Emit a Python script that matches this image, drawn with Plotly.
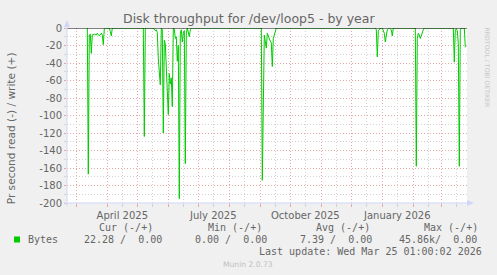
import plotly.graph_objects as go
import pandas as pd

# ---- data (bytes per second read; plotted negative) ----
read_dates = [
    "2025-03-12", "2025-03-13", "2025-03-14", "2025-03-15", "2025-03-16", "2025-03-17",
    "2025-03-19", "2025-03-21", "2025-03-22", "2025-03-24", "2025-03-26", "2025-03-27",
    "2025-03-28", "2025-03-29", "2025-03-30",
    "2025-04-03", "2025-04-04", "2025-04-05", "2025-04-06",
    "2025-05-07", "2025-05-08", "2025-05-09",
    "2025-05-17", "2025-05-18", "2025-05-19", "2025-05-20", "2025-05-21", "2025-05-22",
    "2025-05-23", "2025-05-24", "2025-05-25", "2025-05-26", "2025-05-27", "2025-05-28",
    "2025-05-29", "2025-05-30", "2025-05-31", "2025-06-01", "2025-06-02", "2025-06-03",
    "2025-06-04", "2025-06-05", "2025-06-06", "2025-06-07", "2025-06-08", "2025-06-09",
    "2025-06-10", "2025-06-11", "2025-06-12", "2025-06-13", "2025-06-14", "2025-06-15",
    "2025-06-16", "2025-06-17", "2025-06-18", "2025-06-19", "2025-06-20", "2025-06-21",
    "2025-06-22", "2025-06-23", "2025-06-24",
    "2025-09-02", "2025-09-03", "2025-09-05", "2025-09-07", "2025-09-08", "2025-09-10",
    "2025-09-11", "2025-09-12", "2025-09-13", "2025-09-14", "2025-09-16", "2025-09-17",
    "2025-12-25", "2025-12-26", "2025-12-27", "2025-12-28", "2025-12-29", "2025-12-30",
    "2026-01-01", "2026-01-02", "2026-01-03", "2026-01-04", "2026-01-05", "2026-01-06",
    "2026-01-07", "2026-01-08", "2026-01-10", "2026-01-11", "2026-01-12",
    "2026-02-03", "2026-02-04", "2026-02-05", "2026-02-06", "2026-02-07", "2026-02-08",
    "2026-02-09", "2026-02-10", "2026-02-11", "2026-02-12",
    "2026-03-13", "2026-03-14", "2026-03-15", "2026-03-16", "2026-03-17", "2026-03-18",
    "2026-03-19", "2026-03-20", "2026-03-21", "2026-03-24", "2026-03-25",
]
read_rate = [
    0, 167, 8, 7, 29, 8,
    7, 8, 6, 9, 6, 8,
    19, 1, 0,
    0, 4, 9, 0,
    0, 124, 0,
    0, 2, 3, 2, 5, 35,
    56, 65, 0, 2, 120, 14,
    18, 42, 60, 99, 52, 64,
    57, 90, 0, 1, 12, 10,
    38, 20, 195, 6, 2, 16,
    6, 3, 155, 6, 0, 6,
    10, 2, 0,
    0, 174, 8, 23, 6, 13,
    15, 17, 44, 12, 5, 0,
    0, 2, 33, 3, 2, 0,
    0, 3, 6, 16, 5, 2,
    1, 0, 2, 9, 0,
    0, 158, 12, 6, 8, 12,
    8, 5, 2, 0,
    0, 39, 2, 1, 3, 18,
    158, 2, 0, 0, 22,
]

y_ticks = [0, -20, -40, -60, -80, -100, -120, -140, -160, -180, -200]
y_labels = ["0", "-20", "-40", "-60", "-80", "-100", "-120", "-140", "-160", "-180", "-200"]

x_label_dates = ["2025-04-16", "2025-07-16", "2025-10-16", "2026-01-16"]
x_label_text = ["April 2025", "July 2025", "October 2025", "January 2026"]

x_start, x_end = "2025-02-19 16:48", "2026-03-26 16:48"

legend_headers = ["Cur (-/+)", "Min (-/+)", "Avg (-/+)", "Max (-/+)"]
legend_values = ["22.28 /  0.00", "0.00 /  0.00", "7.39 /  0.00", "45.86k/  0.00"]
series_name = "Bytes"
last_update = "Last update: Wed Mar 25 01:00:02 2026"

# ---- geometry ----
FW, FH = 497, 275
L, R, T, B = 67, 30, 28, 72
W = FW - L - R
H = FH - T - B


def px(x):
    return (x - L) / W


def py(y):
    return (FH - B - y) / H


FONT = "DejaVu Sans"
MONO = "DejaVu Sans Mono"
FCOL = "#666666"
AXCOL = "#CFD6F8"
MGRID = "#e9a8a8"
GRID = "#d2d2d2"

mid_months = pd.date_range("2025-03-16", "2026-03-16", freq="MS") + pd.Timedelta(days=15)
month_starts = pd.date_range("2025-03-01", "2026-03-01", freq="MS")
lab_map = dict(zip(pd.to_datetime(x_label_dates), x_label_text))
mid_text = [lab_map.get(d, "") for d in mid_months]

fig = go.Figure()
fig.add_trace(go.Scatter(
    x=pd.to_datetime(read_dates), y=[-v for v in read_rate],
    mode="lines", line=dict(color="#00cc00", width=1),
    hoverinfo="skip", showlegend=False,
))

shapes = [
    # zero line
    dict(type="line", xref="paper", yref="y", x0=0, x1=1, y0=0, y1=0,
         line=dict(color="#000000", width=1)),
    # axes
    dict(type="line", xref="paper", yref="paper", x0=px(L), x1=px(L), y0=py(206), y1=py(24),
         line=dict(color=AXCOL, width=1)),
    dict(type="line", xref="paper", yref="paper", x0=px(64), x1=px(469), y0=py(203), y1=py(203),
         line=dict(color=AXCOL, width=1)),
    # arrows
    dict(type="path", xref="paper", yref="paper",
         path=f"M {px(L)},{py(20)} L {px(L-3)},{py(27)} L {px(L+3)},{py(27)} Z",
         fillcolor=AXCOL, line=dict(width=0)),
    dict(type="path", xref="paper", yref="paper",
         path=f"M {px(474)},{py(203)} L {px(467)},{py(200)} L {px(467)},{py(206)} Z",
         fillcolor=AXCOL, line=dict(width=0)),
    # legend colour box
    dict(type="rect", xref="paper", yref="paper", x0=px(14), x1=px(20), y0=py(242.5), y1=py(236.5),
         fillcolor="#00cc00", line=dict(width=0)),
]

ann = []


def text(s, x, y, size=10, family=MONO, color=FCOL, xanchor="left", angle=0):
    ann.append(dict(text=s.replace(" ", "\u00a0"), x=px(x), y=py(y), xref="paper", yref="paper",
                    showarrow=False, xanchor=xanchor, yanchor="middle", borderpad=0,
                    textangle=angle, font=dict(family=family, size=size, color=color)))


text("Disk throughput for /dev/loop5 - by year", 248.8, 18.5, size=12.5, family=FONT, xanchor="center")
text("Pr second read (-) / write (+)", 11, 128.3, size=10.6, family=FONT, xanchor="center", angle=-90)
text("RRDTOOL / TOBI OETIKER", 487.5, 67, size=6.2, family=FONT, color="#c8c8c8", xanchor="center", angle=90)

for h, xx in zip(legend_headers, [98.3, 206.7, 315, 422.7]):
    text(h, xx, 227.7)
text(series_name, 26.7, 239.3)
for v, xx in zip(legend_values, [82.7, 194.3, 299, 398.3]):
    text(v, xx, 239.3)
text(last_update, 482.7, 251.7, xanchor="right")
text("Munin 2.0.73", 248, 264.3, size=7.6, family=FONT, color="#c0c0c0", xanchor="center")

fig.update_layout(
    width=FW, height=FH,
    margin=dict(l=L, r=R, t=T, b=B, pad=0),
    paper_bgcolor="#F0F0F0", plot_bgcolor="#FFFFFF",
    showlegend=False,
    shapes=shapes, annotations=ann,
    xaxis=dict(
        type="date", range=[x_start, x_end], fixedrange=True,
        tickmode="array", tickvals=mid_months, ticktext=mid_text,
        showgrid=True, gridcolor=GRID, gridwidth=1, griddash="1px,2px",
        ticks="outside", ticklen=3, tickcolor=GRID, tickwidth=1,
        minor=dict(tickmode="array", tickvals=month_starts, showgrid=True, gridcolor=MGRID,
                   gridwidth=1, griddash="1px,2px", ticks="outside", ticklen=3, tickcolor=MGRID),
        showline=False, zeroline=False,
        tickfont=dict(family=FONT, size=10, color=FCOL),
    ),
    yaxis=dict(
        range=[-200, 0], fixedrange=True,
        tickmode="array", tickvals=y_ticks, ticktext=y_labels,
        showgrid=True, gridcolor=MGRID, gridwidth=1, griddash="1px,2px",
        minor=dict(tickmode="linear", tick0=0, dtick=10, showgrid=True, gridcolor=GRID,
                   gridwidth=1, griddash="1px,2px", ticks="outside", ticklen=2, tickcolor=GRID),
        ticks="outside", ticklen=2, tickcolor=MGRID,
        showline=False, zeroline=False,
        tickfont=dict(family=FONT, size=10, color=FCOL),
    ),
)

fig.write_html("out.html", config={"displayModeBar": False})
